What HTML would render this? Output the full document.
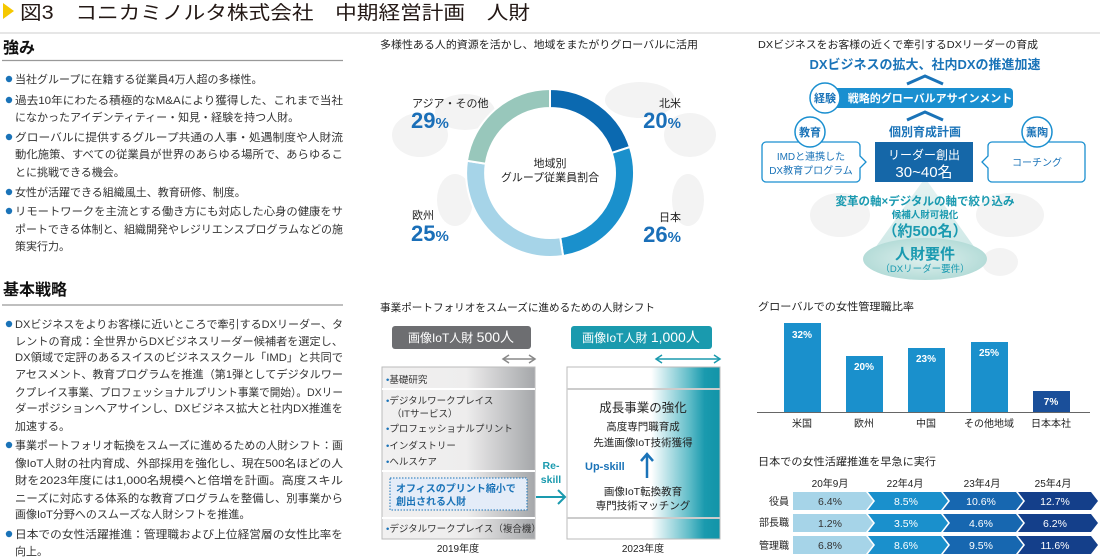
<!DOCTYPE html>
<html><head><meta charset="utf-8"><style>
html,body{margin:0;padding:0;background:#fff;}
svg{display:block;}
text{font-family:"Liberation Sans","Noto Sans CJK JP",sans-serif;}
</style></head><body>
<svg width="1100" height="559" viewBox="0 0 1100 559" xmlns="http://www.w3.org/2000/svg">
<defs>
<linearGradient id="gl" x1="0" x2="1" y1="0" y2="0"><stop offset="0" stop-color="#f1f0f0"/><stop offset="0.55" stop-color="#eeeded"/><stop offset="1" stop-color="#a5a7aa"/></linearGradient>
<linearGradient id="gr" x1="0" x2="1" y1="0" y2="0"><stop offset="0" stop-color="#fff"/><stop offset="0.55" stop-color="#fff"/><stop offset="0.8" stop-color="#5fbcc8"/><stop offset="0.9" stop-color="#1a9aae"/><stop offset="1" stop-color="#1294a8"/></linearGradient>
<linearGradient id="gt" x1="0" x2="0" y1="0" y2="1"><stop offset="0" stop-color="#e6f3f2"/><stop offset="1" stop-color="#cde8e6"/></linearGradient>
<radialGradient id="ge"><stop offset="0" stop-color="#dff0ee"/><stop offset="1" stop-color="#b5dcd8"/></radialGradient>
</defs>

<polygon points="3,3 14,11 3,19" fill="#f5c800"/>
<text x="20" y="19" font-size="19" fill="#231815" textLength="510" lengthAdjust="spacingAndGlyphs">図3　コニカミノルタ株式会社　中期経営計画　人財</text>
<line x1="0" y1="33" x2="1100" y2="33" stroke="#ccc" stroke-width="1"/>

<text x="3" y="53" font-size="16" font-weight="bold" fill="#111">強み</text>
<line x1="2" y1="60.5" x2="343" y2="60.5" stroke="#999" stroke-width="1.2"/>
<g font-size="11" fill="#333">
<circle cx="9" cy="79" r="3.2" fill="#1a73b8"/>
<text x="15" y="83">当社グループに在籍する従業員4万人超の多様性。</text>
<circle cx="9" cy="100" r="3.2" fill="#1a73b8"/>
<text x="15" y="104" textLength="328" lengthAdjust="spacingAndGlyphs">過去10年にわたる積極的なM&amp;Aにより獲得した、これまで当社</text>
<text x="15" y="121">になかったアイデンティティー・知見・経験を持つ人財。</text>
<circle cx="9" cy="137" r="3.2" fill="#1a73b8"/>
<text x="15" y="141" textLength="328" lengthAdjust="spacingAndGlyphs">グローバルに提供するグループ共通の人事・処遇制度や人財流</text>
<text x="15" y="158" textLength="328" lengthAdjust="spacingAndGlyphs">動化施策、すべての従業員が世界のあらゆる場所で、あらゆるこ</text>
<text x="15" y="176">とに挑戦できる機会。</text>
<circle cx="9" cy="192" r="3.2" fill="#1a73b8"/>
<text x="15" y="196">女性が活躍できる組織風土、教育研修、制度。</text>
<circle cx="9" cy="211" r="3.2" fill="#1a73b8"/>
<text x="15" y="215" textLength="328" lengthAdjust="spacingAndGlyphs">リモートワークを主流とする働き方にも対応した心身の健康をサ</text>
<text x="15" y="233" textLength="328" lengthAdjust="spacingAndGlyphs">ポートできる体制と、組織開発やレジリエンスプログラムなどの施</text>
<text x="15" y="250">策実行力。</text>
</g>

<text x="3" y="295" font-size="16" font-weight="bold" fill="#111">基本戦略</text>
<line x1="2" y1="305" x2="343" y2="305" stroke="#999" stroke-width="1.2"/>
<g font-size="11" fill="#333">
<circle cx="9" cy="324" r="3.2" fill="#1a73b8"/>
<text x="15" y="328" textLength="328" lengthAdjust="spacingAndGlyphs">DXビジネスをよりお客様に近いところで牽引するDXリーダー、タ</text>
<text x="15" y="345" textLength="328" lengthAdjust="spacingAndGlyphs">レントの育成：全世界からDXビジネスリーダー候補者を選定し、</text>
<text x="15" y="361" textLength="328" lengthAdjust="spacingAndGlyphs">DX領域で定評のあるスイスのビジネススクール「IMD」と共同で</text>
<text x="15" y="378" textLength="328" lengthAdjust="spacingAndGlyphs">アセスメント、教育プログラムを推進（第1弾としてデジタルワー</text>
<text x="15" y="396" textLength="328" lengthAdjust="spacingAndGlyphs">クプレイス事業、プロフェッショナルプリント事業で開始）。DXリー</text>
<text x="15" y="412" textLength="328" lengthAdjust="spacingAndGlyphs">ダーポジションへアサインし、DXビジネス拡大と社内DX推進を</text>
<text x="15" y="430">加速する。</text>
<circle cx="9" cy="445" r="3.2" fill="#1a73b8"/>
<text x="15" y="449" textLength="328" lengthAdjust="spacingAndGlyphs">事業ポートフォリオ転換をスムーズに進めるための人財シフト：画</text>
<text x="15" y="467" textLength="328" lengthAdjust="spacingAndGlyphs">像IoT人財の社内育成、外部採用を強化し、現在500名ほどの人</text>
<text x="15" y="484" textLength="328" lengthAdjust="spacingAndGlyphs">財を2023年度には1,000名規模へと倍増を計画。高度スキル</text>
<text x="15" y="502" textLength="328" lengthAdjust="spacingAndGlyphs">ニーズに対応する体系的な教育プログラムを整備し、別事業から</text>
<text x="15" y="518">画像IoT分野へのスムーズな人財シフトを推進。</text>
<circle cx="9" cy="534" r="3.2" fill="#1a73b8"/>
<text x="15" y="538" textLength="328" lengthAdjust="spacingAndGlyphs">日本での女性活躍推進：管理職および上位経営層の女性比率を</text>
<text x="15" y="555">向上。</text>
</g>

<text x="380" y="48" font-size="10.5" fill="#222" textLength="318" lengthAdjust="spacingAndGlyphs">多様性ある人的資源を活かし、地域をまたがりグローバルに活用</text>
<g fill="#f3f3f3">
<ellipse cx="420" cy="135" rx="28" ry="22"/><ellipse cx="465" cy="112" rx="30" ry="18"/><ellipse cx="455" cy="200" rx="18" ry="26"/>
<ellipse cx="640" cy="100" rx="35" ry="18"/><ellipse cx="690" cy="135" rx="26" ry="22"/><ellipse cx="688" cy="200" rx="16" ry="26"/>
</g>
<g stroke="#fff" stroke-width="2">
<path d="M550,89 A84,84 0 0 1 629.9,147.0 L611.8,152.9 A65,65 0 0 0 550,108 Z" fill="#0b69b0"/>
<path d="M629.9,147.0 A84,84 0 0 1 563.1,256.0 L560.2,237.2 A65,65 0 0 0 611.8,152.9 Z" fill="#1a90cc"/>
<path d="M563.1,256.0 A84,84 0 0 1 467.0,160.8 L485.8,163.7 A65,65 0 0 0 560.2,237.2 Z" fill="#a6d4e8"/>
<path d="M467.0,160.8 A84,84 0 0 1 550,89 L550,108 A65,65 0 0 0 485.8,163.7 Z" fill="#98c7bb"/>
</g>
<text x="550" y="167" font-size="11" fill="#222" text-anchor="middle">地域別</text>
<text x="550" y="181" font-size="11" fill="#222" text-anchor="middle">グループ従業員割合</text>
<g font-size="11" fill="#222">
<text x="412" y="107">アジア・その他</text>
<text x="681" y="107" text-anchor="end">北米</text>
<text x="412" y="219">欧州</text>
<text x="681" y="221" text-anchor="end">日本</text>
</g>
<g font-size="22" font-weight="bold" fill="#1a6fb8">
<text x="411" y="128">29<tspan font-size="15">%</tspan></text>
<text x="681" y="128" text-anchor="end">20<tspan font-size="15">%</tspan></text>
<text x="411" y="241">25<tspan font-size="15">%</tspan></text>
<text x="681" y="242" text-anchor="end">26<tspan font-size="15">%</tspan></text>
</g>

<text x="758" y="48" font-size="10.5" fill="#222" textLength="280" lengthAdjust="spacingAndGlyphs">DXビジネスをお客様の近くで牽引するDXリーダーの育成</text>
<g fill="#f3f3f3"><ellipse cx="840" cy="215" rx="30" ry="22"/><ellipse cx="1010" cy="215" rx="34" ry="22"/><ellipse cx="1000" cy="262" rx="18" ry="14"/></g>
<text x="925" y="69" font-size="13" font-weight="bold" fill="#1a73b8" text-anchor="middle">DXビジネスの拡大、社内DXの推進加速</text>
<polyline points="907,84 925,76 943,84" fill="none" stroke="#1a73b8" stroke-width="3"/>
<rect x="818" y="88" width="195" height="20" rx="4" fill="#1a8fd0"/>
<text x="930" y="102" font-size="11" font-weight="bold" fill="#fff" text-anchor="middle">戦略的グローバルアサインメント</text>
<circle cx="825" cy="98" r="15" fill="#fff" stroke="#1a8fd0" stroke-width="1.5"/>
<text x="825" y="102" font-size="11" font-weight="bold" fill="#1a73b8" text-anchor="middle">経験</text>
<polyline points="907,120 925,112 943,120" fill="none" stroke="#1a73b8" stroke-width="3"/>
<text x="925" y="136" font-size="12" font-weight="bold" fill="#1a73b8" text-anchor="middle">個別育成計画</text>
<polygon points="925,178 870,255 980,255" fill="url(#gt)"/>
<rect x="875" y="142" width="98" height="40" fill="#1567a8"/>
<text x="924" y="159" font-size="12" fill="#fff" text-anchor="middle">リーダー創出</text>
<text x="924" y="177" font-size="15" fill="#fff" text-anchor="middle">30~40名</text>
<path d="M766,142 H856 A4,4 0 0 1 860,146 V156 L866,162 L860,168 V178 A4,4 0 0 1 856,182 H766 A4,4 0 0 1 762,178 V146 A4,4 0 0 1 766,142 Z" fill="#fff" stroke="#1a8fd0" stroke-width="1.3"/>
<text x="811" y="160" font-size="10" fill="#1a73b8" text-anchor="middle">IMDと連携した</text>
<text x="811" y="174" font-size="10" fill="#1a73b8" text-anchor="middle">DX教育プログラム</text>
<circle cx="810" cy="132" r="15" fill="#fff" stroke="#1a8fd0" stroke-width="1.5"/>
<text x="810" y="136" font-size="11" font-weight="bold" fill="#1a73b8" text-anchor="middle">教育</text>
<path d="M992,142 H1081 A4,4 0 0 1 1085,146 V178 A4,4 0 0 1 1081,182 H992 A4,4 0 0 1 988,178 V168 L982,162 L988,156 V146 A4,4 0 0 1 992,142 Z" fill="#fff" stroke="#1a8fd0" stroke-width="1.3"/>
<text x="1037" y="166" font-size="10" fill="#1a73b8" text-anchor="middle">コーチング</text>
<circle cx="1037" cy="132" r="15" fill="#fff" stroke="#1a8fd0" stroke-width="1.5"/>
<text x="1037" y="136" font-size="11" font-weight="bold" fill="#1a73b8" text-anchor="middle">薫陶</text>
<text x="925" y="205" font-size="11.5" font-weight="bold" fill="#1a9ab0" text-anchor="middle">変革の軸×デジタルの軸で絞り込み</text>
<text x="925" y="218" font-size="9.5" font-weight="bold" fill="#1a9ab0" text-anchor="middle">候補人財可視化</text>
<text x="925" y="236" font-size="15" font-weight="bold" fill="#1a9ab0" text-anchor="middle">（約500名）</text>
<ellipse cx="925" cy="259" rx="62" ry="21" fill="url(#ge)"/>
<text x="925" y="259" font-size="15" font-weight="bold" fill="#1a9ab0" text-anchor="middle">人財要件</text>
<text x="925" y="272" font-size="9.5" fill="#1a9ab0" text-anchor="middle">（DXリーダー要件）</text>

<text x="380" y="311" font-size="10.5" fill="#222" textLength="275" lengthAdjust="spacingAndGlyphs">事業ポートフォリオをスムーズに進めるための人財シフト</text>
<rect x="392" y="326" width="139" height="23" rx="3" fill="#6d6e71"/>
<text x="461" y="342" font-size="12" fill="#fff" text-anchor="middle">画像IoT人財 <tspan font-size="14">500人</tspan></text>
<rect x="571" y="326" width="141" height="23" rx="3" fill="#1a9aae"/>
<text x="641" y="342" font-size="12" fill="#fff" text-anchor="middle">画像IoT人財 <tspan font-size="14">1,000人</tspan></text>
<g stroke="#888" stroke-width="1.5" fill="none"><line x1="504" y1="359" x2="534" y2="359"/><polyline points="509,355 503,359 509,363"/><polyline points="529,355 535,359 529,363"/></g>
<g stroke="#1a9aae" stroke-width="1.5" fill="none"><line x1="657" y1="359" x2="719" y2="359"/><polyline points="662,355 656,359 662,363"/><polyline points="714,355 720,359 714,363"/></g>
<rect x="382" y="367" width="153" height="172" fill="url(#gl)" stroke="#bbb"/>
<g stroke="#fff" stroke-width="2"><line x1="382" y1="389" x2="535" y2="389"/><line x1="382" y1="471" x2="535" y2="471"/><line x1="382" y1="518" x2="535" y2="518"/></g>
<g font-size="9.5" fill="#333">
<text x="386" y="383"><tspan fill="#1a73b8">•</tspan>基礎研究</text>
<text x="386" y="404"><tspan fill="#1a73b8">•</tspan>デジタルワークプレイス</text>
<text x="392" y="417">（ITサービス）</text>
<text x="386" y="432"><tspan fill="#1a73b8">•</tspan>プロフェッショナルプリント</text>
<text x="386" y="449"><tspan fill="#1a73b8">•</tspan>インダストリー</text>
<text x="386" y="465"><tspan fill="#1a73b8">•</tspan>ヘルスケア</text>
<text x="386" y="532"><tspan fill="#1a73b8">•</tspan>デジタルワークプレイス（複合機）</text>
</g>
<rect x="390" y="478" width="137" height="32" fill="#e4ecf8" stroke="#1a73b8" stroke-width="1" stroke-dasharray="1.5,1.5"/>
<text x="396" y="492" font-size="10" font-weight="bold" fill="#1a73b8">オフィスのプリント縮小で</text>
<text x="396" y="505" font-size="10" font-weight="bold" fill="#1a73b8">創出される人財</text>
<text x="458" y="552" font-size="10" fill="#222" text-anchor="middle">2019年度</text>
<text x="551" y="469" font-size="10.5" font-weight="bold" fill="#1a9aae" text-anchor="middle">Re-</text>
<text x="551" y="483" font-size="10.5" font-weight="bold" fill="#1a9aae" text-anchor="middle">skill</text>
<g stroke="#1a9aae" stroke-width="2" fill="none"><line x1="536" y1="497" x2="565" y2="497"/><polyline points="558,490 565,497 558,504"/></g>
<rect x="567" y="367" width="153" height="172" fill="url(#gr)" stroke="#bbb"/>
<g stroke="#ccc" stroke-width="2"><line x1="567" y1="389" x2="720" y2="389"/><line x1="567" y1="518" x2="720" y2="518"/></g>
<text x="643" y="412" font-size="12.5" fill="#222" text-anchor="middle">成長事業の強化</text>
<text x="643" y="430" font-size="10.5" fill="#222" text-anchor="middle">高度専門職育成</text>
<text x="643" y="446" font-size="10.5" fill="#222" text-anchor="middle">先進画像IoT技術獲得</text>
<text x="585" y="470" font-size="11" font-weight="bold" fill="#1a73b8">Up-skill</text>
<g stroke="#1a73b8" stroke-width="2.5" fill="none"><line x1="647" y1="478" x2="647" y2="455"/><polyline points="641,461 647,454 653,461"/></g>
<text x="643" y="495" font-size="10.5" fill="#222" text-anchor="middle">画像IoT転換教育</text>
<text x="643" y="509" font-size="10.5" fill="#222" text-anchor="middle">専門技術マッチング</text>
<text x="643" y="552" font-size="10" fill="#222" text-anchor="middle">2023年度</text>

<text x="758" y="310" font-size="10.5" fill="#222" textLength="156" lengthAdjust="spacingAndGlyphs">グローバルでの女性管理職比率</text>
<g fill="#1a90cc">
<rect x="784" y="323" width="37" height="89"/><rect x="846" y="356" width="37" height="56"/><rect x="908" y="348" width="37" height="64"/><rect x="971" y="342" width="37" height="70"/>
</g>
<rect x="1033" y="391" width="37" height="21" fill="#1a4f9a"/>
<line x1="757" y1="412.5" x2="1090" y2="412.5" stroke="#666" stroke-width="1"/>
<g font-size="10" fill="#fff" text-anchor="middle" font-weight="bold">
<text x="802" y="338">32%</text><text x="864" y="370">20%</text><text x="926" y="362">23%</text><text x="989" y="356">25%</text><text x="1051" y="405">7%</text>
</g>
<g font-size="10" fill="#222" text-anchor="middle">
<text x="802" y="427">米国</text><text x="864" y="427">欧州</text><text x="926" y="427">中国</text><text x="989" y="427">その他地域</text><text x="1051" y="427">日本本社</text>
</g>

<text x="758" y="465" font-size="10.5" fill="#222" textLength="178" lengthAdjust="spacingAndGlyphs">日本での女性活躍推進を早急に実行</text>
<g font-size="10" fill="#222" text-anchor="middle">
<text x="830" y="487">20年9月</text><text x="905" y="487">22年4月</text><text x="982" y="487">23年4月</text><text x="1053" y="487">25年4月</text>
</g>
<g font-size="10" fill="#222" text-anchor="end">
<text x="789" y="505">役員</text><text x="789" y="526">部長職</text><text x="789" y="549">管理職</text>
</g>
<g>
<polygon points="793,492 866,492 873,501 866,510 793,510" fill="#a6d4e8"/>
<polygon points="868,492 941,492 948,501 941,510 868,510 875,501" fill="#1a90cc"/>
<polygon points="943,492 1016,492 1023,501 1016,510 943,510 950,501" fill="#1767b0"/>
<polygon points="1018,492 1091,492 1098,501 1091,510 1018,510 1025,501" fill="#143f8a"/>
<polygon points="793,514 866,514 873,523 866,532 793,532" fill="#a6d4e8"/>
<polygon points="868,514 941,514 948,523 941,532 868,532 875,523" fill="#1a90cc"/>
<polygon points="943,514 1016,514 1023,523 1016,532 943,532 950,523" fill="#1767b0"/>
<polygon points="1018,514 1091,514 1098,523 1091,532 1018,532 1025,523" fill="#143f8a"/>
<polygon points="793,536 866,536 873,545 866,554 793,554" fill="#a6d4e8"/>
<polygon points="868,536 941,536 948,545 941,554 868,554 875,545" fill="#1a90cc"/>
<polygon points="943,536 1016,536 1023,545 1016,554 943,554 950,545" fill="#1767b0"/>
<polygon points="1018,536 1091,536 1098,545 1091,554 1018,554 1025,545" fill="#143f8a"/>
</g>
<g font-size="10.5" text-anchor="middle">
<text x="830" y="505" fill="#333">6.4%</text><text x="906" y="505" fill="#fff">8.5%</text><text x="981" y="505" fill="#fff">10.6%</text><text x="1055" y="505" fill="#fff">12.7%</text>
<text x="830" y="527" fill="#333">1.2%</text><text x="906" y="527" fill="#fff">3.5%</text><text x="981" y="527" fill="#fff">4.6%</text><text x="1055" y="527" fill="#fff">6.2%</text>
<text x="830" y="549" fill="#333">6.8%</text><text x="906" y="549" fill="#fff">8.6%</text><text x="981" y="549" fill="#fff">9.5%</text><text x="1055" y="549" fill="#fff">11.6%</text>
</g>
</svg>
</body></html>
